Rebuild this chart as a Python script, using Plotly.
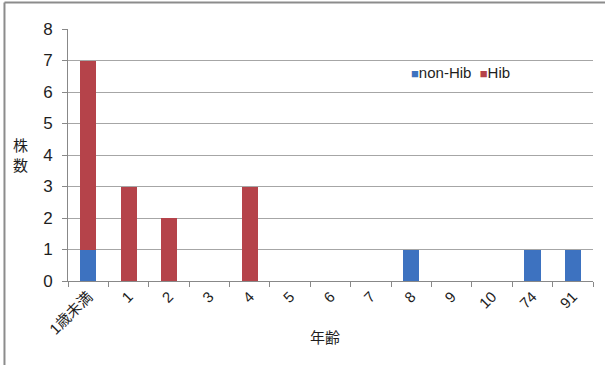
import plotly.graph_objects as go

ages = ["1歳未満", "1", "2", "3", "4", "5", "6", "7", "8", "9", "10", "74", "91"]
non_hib = [1, 0, 0, 0, 0, 0, 0, 0, 1, 0, 0, 1, 1]
hib = [6, 3, 2, 0, 3, 0, 0, 0, 0, 0, 0, 0, 0]
y_ticks = [0, 1, 2, 3, 4, 5, 6, 7, 8]

FONT = "Liberation Sans, Arial, Noto Sans CJK JP, sans-serif"
BLUE = "#3D72C0"
RED = "#B5434A"
TEXT = "#1E1E1E"

fig = go.Figure()
fig.add_trace(go.Bar(x=ages, y=non_hib, name="non-Hib", marker=dict(color=BLUE, line=dict(width=0))))
fig.add_trace(go.Bar(x=ages, y=hib, name="Hib", marker=dict(color=RED, line=dict(width=0))))

fig.update_layout(
    barmode="stack",
    bargap=0.6,
    width=605,
    height=365,
    margin=dict(l=68, r=12, t=29, b=84),
    paper_bgcolor="white",
    plot_bgcolor="white",
    font=dict(family=FONT, color=TEXT),
    showlegend=False,
    xaxis=dict(
        type="category",
        tickson="boundaries",
        ticks="outside",
        ticklen=5,
        tickcolor="#888888",
        tickangle=-45,
        tickfont=dict(size=15, color=TEXT),
        showline=True,
        linecolor="#888888",
        linewidth=1,
        showgrid=False,
    ),
    yaxis=dict(
        range=[0, 8],
        tickvals=y_ticks,
        ticks="outside",
        ticklen=5,
        tickcolor="#888888",
        tickfont=dict(size=17, color=TEXT),
        ticklabelstandoff=6,
        showline=True,
        linecolor="#888888",
        linewidth=1,
        showgrid=True,
        gridcolor="#A6A6A6",
        gridwidth=1,
        zeroline=False,
    ),
)

# legend: small colour squares followed by series names
legend_text = (
    f'<span style="color:{BLUE};font-size:13px">■</span>{fig.data[0].name}'
    f'&nbsp;&nbsp;<span style="color:{RED};font-size:13px">■</span>{fig.data[1].name}'
)
fig.add_annotation(
    text=legend_text, xref="paper", yref="paper",
    x=0.649, y=0.826, xanchor="left", yanchor="middle",
    showarrow=False, font=dict(size=15, color=TEXT),
)

# x-axis title
fig.add_annotation(
    text="年齢", xref="paper", yref="paper",
    x=0.49, y=-0.226, xanchor="center", yanchor="middle",
    showarrow=False, font=dict(size=15, color=TEXT),
)

# vertical y-axis title, one character per line
fig.add_annotation(
    text="株<br>数", xref="paper", yref="paper",
    x=-0.09, y=0.50, xanchor="center", yanchor="middle",
    showarrow=False, font=dict(size=15, color=TEXT), align="center",
)

# frame lines along top and left of the chart
fig.add_shape(type="line", xref="paper", yref="paper",
              x0=-0.121, x1=1.03, y0=1.105, y1=1.105,
              line=dict(color="#8C8C8C", width=2))
fig.add_shape(type="line", xref="paper", yref="paper",
              x0=-0.121, x1=-0.121, y0=1.105, y1=-0.34,
              line=dict(color="#8C8C8C", width=2))

fig.write_html("out.html")
